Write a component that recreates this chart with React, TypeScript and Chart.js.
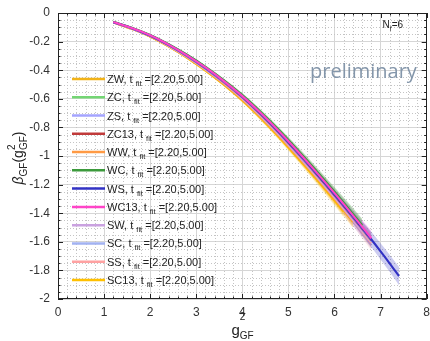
import React, { useEffect, useRef } from "react";
import { Chart, registerables } from "chart.js";

Chart.register(...registerables);

// ---------- data ----------
const G2 = [1.2, 1.6, 2.0, 2.4, 2.8, 3.2, 3.6, 4.0, 4.4, 4.8, 5.2, 5.6, 6.0, 6.2, 6.4, 6.6, 6.8, 7.0, 7.2, 7.4];
const ERR = [0.004, 0.005, 0.006, 0.007, 0.008, 0.01, 0.012, 0.014, 0.017, 0.02, 0.024, 0.028, 0.034, 0.038, 0.042, 0.047, 0.052, 0.056, 0.06, 0.064];

const ZW = [-0.067, -0.111, -0.164, -0.233, -0.311, -0.4, -0.499, -0.608, -0.731, -0.864, -1.006, -1.152, -1.303, -1.381, -1.46];
const ZC = [-0.063, -0.104, -0.155, -0.22, -0.294, -0.379, -0.473, -0.577, -0.696, -0.824, -0.962, -1.106, -1.255, -1.332, -1.41, -1.49];
const ZS = [-0.064, -0.106, -0.158, -0.223, -0.299, -0.385, -0.481, -0.586, -0.706, -0.836, -0.975, -1.12, -1.27, -1.347, -1.425, -1.505, -1.585];
const ZC13 = [-0.065, -0.107, -0.159, -0.225, -0.301, -0.387, -0.483, -0.589, -0.71, -0.84, -0.98, -1.125, -1.275, -1.352, -1.43, -1.51, -1.59];
const WW = [-0.066, -0.11, -0.163, -0.231, -0.309, -0.397, -0.495, -0.603, -0.725, -0.858, -1.0, -1.146, -1.297, -1.375, -1.454];
const WC = [-0.062, -0.103, -0.154, -0.218, -0.292, -0.376, -0.47, -0.574, -0.692, -0.82, -0.958, -1.101, -1.25, -1.327, -1.405, -1.485];
const WS = [-0.064, -0.106, -0.157, -0.223, -0.298, -0.384, -0.479, -0.585, -0.705, -0.835, -0.974, -1.119, -1.269, -1.346, -1.424, -1.504, -1.584, -1.667, -1.752, -1.84];
const WC13 = [-0.063, -0.105, -0.156, -0.221, -0.296, -0.381, -0.476, -0.581, -0.7, -0.829, -0.967, -1.111, -1.26, -1.337, -1.415, -1.495, -1.575];
const SW = [-0.066, -0.108, -0.161, -0.228, -0.305, -0.392, -0.489, -0.596, -0.718, -0.85, -0.991, -1.137, -1.288, -1.366, -1.445, -1.525];
const SC = [-0.065, -0.108, -0.16, -0.227, -0.303, -0.39, -0.486, -0.593, -0.714, -0.845, -0.986, -1.131, -1.282, -1.36, -1.438, -1.518, -1.598];
const SS = [-0.066, -0.109, -0.162, -0.229, -0.307, -0.394, -0.491, -0.599, -0.721, -0.853, -0.994, -1.14, -1.291, -1.369, -1.448, -1.528, -1.608];
const SC13 = [-0.067, -0.111, -0.165, -0.234, -0.313, -0.403, -0.502, -0.612, -0.736, -0.87, -1.013, -1.16, -1.312, -1.39];

const X_TICKS = [0, 1, 2, 3, 4, 5, 6, 7, 8];
const Y_TICKS = [0, -0.2, -0.4, -0.6, -0.8, -1, -1.2, -1.4, -1.6, -1.8, -2];
const FIT_RANGE = "=[2.20,5.00]";

const SERIES = [
  { name: "ZW", color: "#f2b318", values: ZW },
  { name: "ZC", color: "#74d674", values: ZC },
  { name: "ZS", color: "#a4a4ff", values: ZS },
  { name: "ZC13", color: "#c03a3a", values: ZC13 },
  { name: "WW", color: "#ff9a44", values: WW },
  { name: "WC", color: "#3c9a3c", values: WC },
  { name: "WS", color: "#3232c4", values: WS },
  { name: "WC13", color: "#ff44c8", values: WC13 },
  { name: "SW", color: "#caa2e0", values: SW },
  { name: "SC", color: "#a2b2f2", values: SC },
  { name: "SS", color: "#ffa2a2", values: SS },
  { name: "SC13", color: "#ffc000", values: SC13 },
];
// drawing stack, bottom -> top
const DRAW_SEQ = ["SC13", "ZW", "WW", "SS", "SC", "SW", "ZC13", "ZS", "ZC", "WC", "WS", "WC13"];

const FONT = '"Liberation Sans", Arial, Helvetica, sans-serif';

function rgba(hex: string, a: number) {
  const n = parseInt(hex.slice(1), 16);
  return `rgba(${(n >> 16) & 255},${(n >> 8) & 255},${n & 255},${a})`;
}

type Part = { t: string; size: number; dy: number; italic?: boolean; adv?: boolean };

function richWidth(ctx: CanvasRenderingContext2D, parts: Part[]) {
  let w = 0;
  for (const p of parts) {
    ctx.font = `${p.italic ? "italic " : ""}${p.size}px ${FONT}`;
    if (p.adv !== false) w += ctx.measureText(p.t).width;
  }
  return w;
}

function drawRich(ctx: CanvasRenderingContext2D, parts: Part[], x: number, y: number) {
  let cx = x;
  for (const p of parts) {
    ctx.font = `${p.italic ? "italic " : ""}${p.size}px ${FONT}`;
    ctx.fillText(p.t, cx, y + p.dy);
    if (p.adv !== false) cx += ctx.measureText(p.t).width;
  }
}

const decorPlugin = {
  id: "decor",
  beforeDatasetsDraw(chart: any) {
    const { ctx, chartArea: a, scales } = chart;
    const xs = scales.x, ys = scales.y;
    ctx.save();
    ctx.strokeStyle = "#c4c4c4";
    ctx.lineWidth = 1;
    ctx.setLineDash([1, 2]);
    for (let i = 1; i < 40; i++) {
      if (i % 5 === 0) continue;
      const px = Math.round(xs.getPixelForValue(i * 0.2)) + 0.5;
      ctx.beginPath();
      ctx.moveTo(px, a.top);
      ctx.lineTo(px, a.bottom);
      ctx.stroke();
    }
    for (let i = 1; i < 40; i++) {
      if (i % 4 === 0) continue;
      const py = Math.round(ys.getPixelForValue(-i * 0.05)) + 0.5;
      ctx.beginPath();
      ctx.moveTo(a.left, py);
      ctx.lineTo(a.right, py);
      ctx.stroke();
    }
    ctx.restore();
  },
  afterDatasetsDraw(chart: any) {
    const { ctx, chartArea: a, scales } = chart;
    const xs = scales.x, ys = scales.y;
    ctx.save();
    // frame
    ctx.strokeStyle = "#222";
    ctx.lineWidth = 1;
    ctx.strokeRect(Math.round(a.left) + 0.5, Math.round(a.top) + 0.5, Math.round(a.right - a.left) - 1, Math.round(a.bottom - a.top) - 1);
    // inward ticks
    ctx.beginPath();
    for (const v of X_TICKS) {
      const px = Math.round(xs.getPixelForValue(v)) + 0.5;
      ctx.moveTo(px, a.bottom);
      ctx.lineTo(px, a.bottom - 5);
      ctx.moveTo(px, a.top);
      ctx.lineTo(px, a.top + 5);
    }
    for (const v of Y_TICKS) {
      const py = Math.round(ys.getPixelForValue(v)) + 0.5;
      ctx.moveTo(a.left, py);
      ctx.lineTo(a.left + 5, py);
      ctx.moveTo(a.right, py);
      ctx.lineTo(a.right - 5, py);
    }
    ctx.stroke();
    ctx.beginPath();
    for (let i = 1; i < 40; i++) {
      if (i % 5 === 0) continue;
      const px = Math.round(xs.getPixelForValue(i * 0.2)) + 0.5;
      ctx.moveTo(px, a.bottom);
      ctx.lineTo(px, a.bottom - 2.5);
      ctx.moveTo(px, a.top);
      ctx.lineTo(px, a.top + 2.5);
    }
    for (let i = 1; i < 40; i++) {
      if (i % 4 === 0) continue;
      const py = Math.round(ys.getPixelForValue(-i * 0.05)) + 0.5;
      ctx.moveTo(a.left, py);
      ctx.lineTo(a.left + 2.5, py);
      ctx.moveTo(a.right, py);
      ctx.lineTo(a.right - 2.5, py);
    }
    ctx.stroke();

    // legend
    ctx.textBaseline = "alphabetic";
    ctx.textAlign = "left";
    SERIES.forEach((s, i) => {
      const y = 79 + i * 18.27;
      ctx.strokeStyle = s.color;
      ctx.lineWidth = 2.5;
      ctx.beginPath();
      ctx.moveTo(72, y);
      ctx.lineTo(105, y);
      ctx.stroke();
      ctx.fillStyle = "#222";
      drawRich(ctx, [
        { t: `${s.name}, t `, size: 11, dy: 0 },
        { t: "fit", size: 7.5, dy: 3 },
        { t: ` ${FIT_RANGE}`, size: 11, dy: 0 },
      ], 107, y + 4);
    });

    // annotations
    ctx.fillStyle = "#222";
    drawRich(ctx, [
      { t: "N", size: 10, dy: 0 },
      { t: "f", size: 7, dy: 2.5 },
      { t: "=6", size: 10, dy: 0 },
    ], 382.5, 28.3);
    ctx.fillStyle = "#8496aa";
    ctx.font = `20px "Open Sans", ${FONT}`;
    ctx.fillText("preliminary", 310, 78.3);

    // x title
    ctx.fillStyle = "#222";
    drawRich(ctx, [
      { t: "g", size: 15, dy: 0 },
      { t: "2", size: 10, dy: -15, adv: false },
      { t: "GF", size: 10, dy: 4 },
    ], 231.5, 335);

    // y title (rotated)
    const yParts: Part[] = [
      { t: "\u03B2", size: 14, dy: 0, italic: true },
      { t: "GF", size: 10, dy: 4 },
      { t: "(g", size: 14, dy: 0 },
      { t: "2", size: 10, dy: -8, adv: false },
      { t: "GF", size: 10, dy: 4 },
      { t: ")", size: 14, dy: 0 },
    ];
    const w = richWidth(ctx, yParts);
    ctx.translate(23, 158);
    ctx.rotate(-Math.PI / 2);
    drawRich(ctx, yParts, -w / 2, 0);
    ctx.restore();
  },
};

export default function App() {
  const ref = useRef<HTMLCanvasElement | null>(null);
  useEffect(() => {
    if (!ref.current) return;
    const datasets: any[] = [];
    // bands
    SERIES.forEach((s) => {
      datasets.push({
        data: s.values.map((v, i) => ({ x: G2[i], y: v + ERR[i] })),
        borderWidth: 0,
        pointRadius: 0,
        fill: "+1",
        backgroundColor: rgba(s.color, 0.25),
        cubicInterpolationMode: "monotone",
        order: 100,
      });
      datasets.push({
        data: s.values.map((v, i) => ({ x: G2[i], y: v - ERR[i] })),
        borderWidth: 0,
        pointRadius: 0,
        fill: false,
        cubicInterpolationMode: "monotone",
        order: 100,
      });
    });
    // lines
    SERIES.forEach((s) => {
      datasets.push({
        data: s.values.map((v, i) => ({ x: G2[i], y: v })),
        borderColor: s.color,
        borderWidth: 2.1,
        pointRadius: 0,
        fill: false,
        cubicInterpolationMode: "monotone",
        order: 50 - DRAW_SEQ.indexOf(s.name),
      });
    });

    const tickFont = { family: FONT, size: 12 };
    const chart = new Chart(ref.current, {
      type: "line",
      data: { datasets },
      options: {
        responsive: false,
        animation: false,
        devicePixelRatio: 1,
        layout: { padding: { top: 13, right: 3, left: 0, bottom: 0 } },
        plugins: { legend: { display: false }, tooltip: { enabled: false } },
        scales: {
          x: {
            type: "linear",
            min: 0,
            max: 8,
            afterFit: (s: any) => { s.height = 42; },
            afterBuildTicks: (s: any) => { s.ticks = X_TICKS.map((v) => ({ value: v })); },
            grid: { color: "#d6d6d6", drawTicks: true, tickLength: 6, tickColor: "rgba(0,0,0,0)", lineWidth: 1 },
            border: { display: false },
            ticks: { padding: 0, color: "#333", font: tickFont, maxRotation: 0, autoSkip: false, callback: (v: any) => String(v) },
          },
          y: {
            type: "linear",
            min: -2,
            max: 0,
            afterFit: (s: any) => { s.width = 58; },
            afterBuildTicks: (s: any) => { s.ticks = Y_TICKS.map((v) => ({ value: v })); },
            grid: { color: "#d6d6d6", drawTicks: true, tickLength: 8, tickColor: "rgba(0,0,0,0)", lineWidth: 1 },
            border: { display: false },
            ticks: { padding: 0, color: "#333", font: tickFont, autoSkip: false, callback: (v: any) => String(v) },
          },
        },
      } as any,
      plugins: [decorPlugin],
    });
    return () => chart.destroy();
  }, []);
  return (
    <div style={{ position: "absolute", left: 0, top: 0, width: 430, height: 341, background: "#fff" }}>
      <canvas ref={ref} width={430} height={341} style={{ display: "block", width: 430, height: 341 }} />
    </div>
  );
}
